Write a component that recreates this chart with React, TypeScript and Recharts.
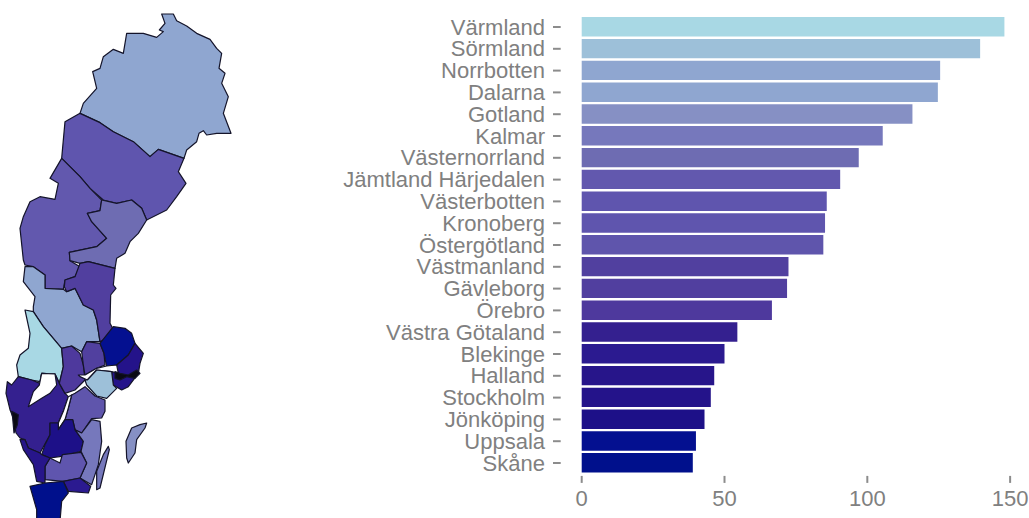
import React from "react";
import {
  BarChart,
  Bar,
  Cell,
  XAxis,
  YAxis,
  Surface,
  Polygon,
} from "recharts";

const counties = [
  "Värmland", "Sörmland", "Norrbotten", "Dalarna", "Gotland", "Kalmar", "Västernorrland",
  "Jämtland Härjedalen", "Västerbotten", "Kronoberg", "Östergötland", "Västmanland", "Gävleborg",
  "Örebro", "Västra Götaland", "Blekinge", "Halland", "Stockholm", "Jönköping", "Uppsala", "Skåne",
];
const rates = [
  148, 139.5, 125.5, 124.7, 115.8, 105.4, 97, 90.5, 85.8, 85.2, 84.6, 72.4, 71.9, 66.6, 54.5, 50,
  46.4, 45.2, 43, 40, 38.9,
];
const colors = [
  "#a8d8e4", "#9dc0d9", "#8fa6d0", "#8fa6d0", "#8690c4", "#7678bc", "#6e6cb2", "#6258ae", "#5f55ae",
  "#5f55ae", "#5f55ac", "#51409f", "#513f9f", "#4e399d", "#34208f", "#2b1a90", "#27158a", "#24138a",
  "#1d1088", "#041090", "#00108c",
];
const xTicks = [0, 50, 100, 150];

const chartData = counties.map((name, i) => ({ name, rate: rates[i] }));

// county outlines at 3x (flat x,y pairs)
const mapShapes: { county: string; outline: number[] }[] = [
  { county: "Norrbotten", outline: [485,42, 520,42, 530,62, 560,78, 590,100, 630,118, 650,145, 665,160, 657,205, 675,220, 665,250, 685,290, 670,340, 693,400, 650,400, 620,405, 610,392, 597,400, 590,425, 560,450, 552,475, 475,448, 450,470, 400,425, 340,395, 300,368, 240,340, 250,310, 290,265, 278,215, 300,205, 310,170, 340,148, 370,160, 380,100, 430,100, 470,112, 490,95, 478,90, 495,70] },
  { county: "Västerbotten", outline: [240,340, 300,368, 340,395, 400,425, 450,470, 475,448, 552,475, 535,515, 558,550, 530,590, 500,630, 440,660, 425,625, 395,600, 350,610, 310,600, 270,565, 240,530, 185,475, 195,365] },
  { county: "Jämtland Härjedalen", outline: [185,475, 240,530, 270,565, 305,600, 300,632, 262,640, 275,665, 320,715, 290,740, 208,757, 210,782, 240,800, 225,830, 195,840, 190,868, 135,865, 135,825, 100,800, 75,795, 70,780, 60,685, 70,650, 90,605, 120,590, 165,598, 175,550, 150,535] },
  { county: "Västernorrland", outline: [305,600, 350,610, 395,600, 425,625, 440,660, 415,700, 390,725, 375,760, 350,775, 345,805, 265,785, 240,790, 210,782, 208,757, 290,740, 320,715, 275,665, 262,640, 300,632] },
  { county: "Dalarna", outline: [75,800, 100,800, 135,825, 135,865, 190,868, 200,875, 225,865, 250,915, 280,930, 290,960, 300,1025, 260,1025, 245,1055, 215,1038, 185,1045, 130,980, 100,935, 100,920, 105,890, 70,845] },
  { county: "Gävleborg", outline: [240,790, 265,785, 345,805, 340,855, 348,865, 332,885, 330,970, 338,985, 310,1020, 300,1025, 290,960, 280,930, 250,915, 225,865, 200,875, 193,860, 195,840, 225,830] },
  { county: "Värmland", outline: [75,930, 100,935, 130,980, 185,1045, 190,1100, 178,1150, 165,1122, 125,1120, 120,1145, 95,1140, 55,1130, 50,1095, 60,1065, 85,1045, 90,1000] },
  { county: "Västra Götaland", outline: [55,1130, 95,1140, 120,1150, 125,1120, 165,1122, 178,1150, 195,1180, 205,1190, 190,1234, 175,1269, 150,1269, 150,1304, 120,1359, 85,1344, 75,1319, 60,1314, 48,1299, 40,1254, 30,1229, 18,1180, 22,1145, 35,1155] },
  { county: "", outline: [125,1120, 165,1122, 170,1155, 150,1180, 125,1195, 85,1220, 100,1175, 118,1155] },
  { county: "Örebro", outline: [185,1045, 215,1038, 240,1060, 250,1095, 255,1140, 225,1170, 195,1180, 178,1150, 190,1100] },
  { county: "Västmanland", outline: [245,1055, 260,1025, 300,1030, 312,1060, 315,1095, 290,1105, 255,1125, 250,1095] },
  { county: "Uppsala", outline: [300,1030, 340,980, 375,985, 395,1000, 405,1030, 385,1065, 350,1095, 320,1100, 312,1060] },
  { county: "Stockholm", outline: [405,1030, 430,1060, 420,1090, 415,1120, 385,1160, 365,1170, 340,1155, 335,1120, 350,1095, 385,1065] },
  { county: "", outline: [235,1125, 255,1125, 290,1105, 320,1098, 350,1095, 355,1120, 335,1115, 290,1110, 262,1140, 240,1130] },
  { county: "Sörmland", outline: [262,1140, 290,1110, 335,1115, 340,1155, 350,1165, 320,1195, 290,1188, 260,1155, 255,1140] },
  { county: "Östergötland", outline: [255,1160, 285,1188, 315,1200, 315,1234, 305,1254, 275,1256, 245,1299, 225,1289, 218,1259, 195,1259, 205,1224, 215,1185, 225,1180] },
  { county: "", outline: [215,1185, 205,1224, 195,1259, 175,1289, 175,1269, 190,1234, 205,1190] },
  { county: "Jönköping", outline: [150,1269, 175,1269, 175,1289, 195,1259, 218,1259, 225,1289, 250,1324, 243,1354, 185,1369, 150,1374, 125,1364, 135,1334, 150,1304] },
  { county: "Kalmar", outline: [245,1299, 275,1259, 300,1264, 305,1324, 295,1394, 275,1454, 240,1434, 260,1389, 243,1354, 250,1324, 225,1289] },
  { county: "Kronoberg", outline: [135,1399, 150,1374, 180,1389, 187,1364, 243,1357, 260,1389, 240,1434, 190,1444, 135,1439] },
  { county: "Blekinge", outline: [190,1444, 240,1434, 272,1459, 265,1479, 205,1474] },
  { county: "Halland", outline: [60,1319, 75,1319, 85,1344, 120,1359, 125,1364, 150,1374, 135,1399, 135,1449, 110,1444, 100,1394, 70,1349] },
  { county: "Skåne", outline: [90,1459, 135,1449, 190,1444, 205,1479, 185,1504, 180,1564, 110,1564, 110,1529] },
  { county: "Kalmar", outline: [325,1339, 328,1349, 300,1464, 290,1469, 290,1414, 310,1364] },
  { county: "Gotland", outline: [440,1269, 435,1284, 410,1319, 405,1359, 385,1389, 380,1374, 378,1324, 395,1284, 420,1274] },
  { county: "black", outline: [345,1115, 360,1120, 385,1125, 410,1110, 420,1120, 405,1135, 380,1130, 360,1140, 345,1135] },
  { county: "black", outline: [35,1234, 55,1244, 52,1274, 42,1299, 38,1254] },
];

function regionFill(county: string) {
  if (county === "black") return "#0a0a14";
  const i = counties.indexOf(county);
  return i < 0 ? "#ffffff" : colors[i];
}

function toPoints(flat: number[]) {
  const pts = [];
  for (let i = 0; i < flat.length; i += 2) pts.push({ x: flat[i], y: flat[i + 1] });
  return pts;
}

const YTick = ({ x, y, payload }: any) => (
  <g>
    <text x={x - 36.7} y={y} dy={7.5} textAnchor="end" fontSize={22} fill="#808080">
      {payload.value}
    </text>
    <line x1={x - 28.7} x2={x - 21} y1={y} y2={y} stroke="#8c8c8c" strokeWidth={2} />
  </g>
);

const XTick = ({ x, y, payload }: any) => (
  <g>
    <line x1={x} x2={x} y1={y + 2} y2={y + 9} stroke="#8c8c8c" strokeWidth={2} />
    <text x={x} y={y + 32} textAnchor="middle" fontSize={22} fill="#808080">
      {payload.value}
    </text>
  </g>
);

export default function App() {
  return (
    <div
      style={{
        position: "absolute",
        left: 0,
        top: 0,
        width: 1029,
        height: 518,
        background: "#fff",
        overflow: "hidden",
        fontFamily: "'Liberation Sans', Arial, sans-serif",
      }}
    >
      <div style={{ position: "absolute", left: 0, top: 0 }}>
        <Surface width={1029} height={518} viewBox={{ x: 0, y: 0, width: 3087, height: 1554 }}>
          {mapShapes.map((s, i) => (
            <Polygon
              key={i}
              points={toPoints(s.outline)}
              fill={regionFill(s.county)}
              stroke="#14142a"
              strokeWidth={3.6}
              strokeLinejoin="round"
            />
          ))}
        </Surface>
      </div>
      <div style={{ position: "absolute", left: 0, top: 0 }}>
        <BarChart
          width={1029}
          height={518}
          layout="vertical"
          data={chartData}
          margin={{ top: 16.1, right: 4.6, bottom: 0, left: 341.7 }}
        >
          <XAxis
            type="number"
            domain={[0, 155]}
            ticks={xTicks}
            height={44.1}
            axisLine={false}
            tickLine={false}
            tickSize={0}
            tickMargin={0}
            tick={<XTick />}
          />
          <YAxis
            type="category"
            dataKey="name"
            width={240}
            interval={0}
            axisLine={false}
            tickLine={false}
            tickSize={0}
            tickMargin={0}
            tick={<YTick />}
          />
          <Bar dataKey="rate" barSize={19.4} isAnimationActive={false}>
            {chartData.map((d, i) => (
              <Cell key={d.name} fill={colors[i]} />
            ))}
          </Bar>
        </BarChart>
      </div>
    </div>
  );
}
